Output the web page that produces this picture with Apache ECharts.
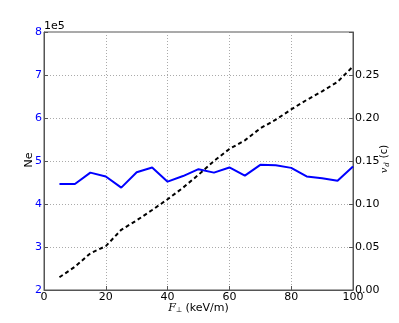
<!DOCTYPE html>
<html>
<head>
<meta charset="utf-8">
<script src="https://cdn.jsdelivr.net/npm/echarts@6/dist/echarts.min.js"></script>
<style>
html,body{margin:0;padding:0;background:#fff;}
#chart{width:399px;height:323px;}
</style>
</head>
<body>
<div id="chart"></div>
<script>
// Field values (keV/m)
const fieldValues = [5,10,15,20,25,30,35,40,45,50,55,60,65,70,75,80,85,90,95,100];
// Ne (electron count)
const neValues = [446500,446500,473000,464000,438000,474000,485000,452000,465000,481000,473000,485000,466000,491000,490000,484000,464000,460000,454000,487000];
// drift velocity v_d (c)
const vdValues = [0.0148,0.027,0.0427,0.051,0.070,0.081,0.093,0.1055,0.119,0.134,0.150,0.164,0.174,0.188,0.198,0.210,0.221,0.231,0.242,0.260];
const xTicks = [0,20,40,60,80,100];
const leftTicks = [2,3,4,5,6,7,8];
const rightTicks = [0.00,0.05,0.10,0.15,0.20,0.25];

const chart = echarts.init(document.getElementById('chart'), null, {renderer:'canvas'});
const font = 'DejaVu Sans';
const rot = Math.PI/2;
const option = {
  animation:false,
  backgroundColor:'#ffffff',
  grid:{left:44,right:46,top:32,bottom:33,containLabel:false,outerBoundsMode:'none',show:true,borderColor:'#555555',borderWidth:1},
  graphic:[
    {type:'text',left:44,top:21,style:{text:'1e5',font:'11px "DejaVu Sans"',fill:'#000'}},
    {type:'text',x:29,y:160,rotation:rot,style:{text:'Ne',font:'11px "DejaVu Sans"',fill:'#000',align:'center',verticalAlign:'middle'}},
    {type:'text',x:384,y:151.5,rotation:rot,style:{text:'(c)',font:'10px "DejaVu Sans"',fill:'#000',align:'center',verticalAlign:'middle'}},
    {type:'text',x:384,y:170.5,rotation:rot,style:{text:'v',font:'italic 10px "DejaVu Serif"',fill:'#000',align:'center',verticalAlign:'middle'}},
    {type:'text',x:387,y:164.5,rotation:rot,style:{text:'d',font:'italic 7px "DejaVu Serif"',fill:'#000',align:'center',verticalAlign:'middle'}}
  ],
  xAxis:{
    type:'value',min:0,max:100,interval:20,
    axisLine:{show:true,lineStyle:{color:'#555555'}},
    axisTick:{show:true,inside:true,length:4,lineStyle:{color:'#555555'}},
    axisLabel:{color:'#000',fontFamily:font,fontSize:11,margin:2,
      formatter:v=>xTicks.includes(v)?String(v):''},
    splitLine:{show:true,lineStyle:{color:'#aaaaaa',type:[1,2],width:1}},
    name:'{i|F}{s|⊥} {n|(keV/m)}',nameLocation:'middle',nameGap:12,nameMoveOverlap:false,
    nameTextStyle:{rich:{
      i:{fontFamily:'DejaVu Serif',fontStyle:'italic',fontSize:11,color:'#000'},
      s:{fontFamily:font,fontSize:7,color:'#000',verticalAlign:'bottom',padding:[5,0,0,0]},
      n:{fontFamily:font,fontSize:11,color:'#000'}}}
  },
  yAxis:[{
    type:'value',min:200000,max:800000,interval:100000,position:'left',
    axisLine:{show:true,lineStyle:{color:'#555555'}},
    axisTick:{show:true,inside:true,length:4,lineStyle:{color:'#555555'}},
    axisLabel:{color:'#0000ff',fontFamily:font,fontSize:11,margin:2,
      formatter:v=>{const t=Math.round(v/1e5);return leftTicks.includes(t)?String(t):'';}},
    splitLine:{show:true,lineStyle:{color:'#aaaaaa',type:[1,2],width:1}}
  },{
    type:'value',min:0,max:0.3,interval:0.05,position:'right',
    axisLine:{show:true,lineStyle:{color:'#555555'}},
    axisTick:{show:true,inside:true,length:4,lineStyle:{color:'#555555'}},
    axisLabel:{color:'#000',fontFamily:font,fontSize:11,margin:2,
      formatter:v=>{const r=Math.round(v*100)/100;return rightTicks.some(t=>Math.abs(t-r)<1e-9)?r.toFixed(2):'';}},
    splitLine:{show:false}
  }],
  series:[{
    type:'line',yAxisIndex:0,showSymbol:false,
    data:fieldValues.map((x,i)=>[x,neValues[i]]),
    lineStyle:{color:'#0000ff',width:2},itemStyle:{color:'#0000ff'},z:3
  },{
    type:'line',yAxisIndex:1,showSymbol:false,
    data:fieldValues.map((x,i)=>[x,vdValues[i]]),
    lineStyle:{color:'#000000',width:2,type:[4,3]},itemStyle:{color:'#000'},z:4
  }]
};
chart.setOption(option);
</script>
</body>
</html>
